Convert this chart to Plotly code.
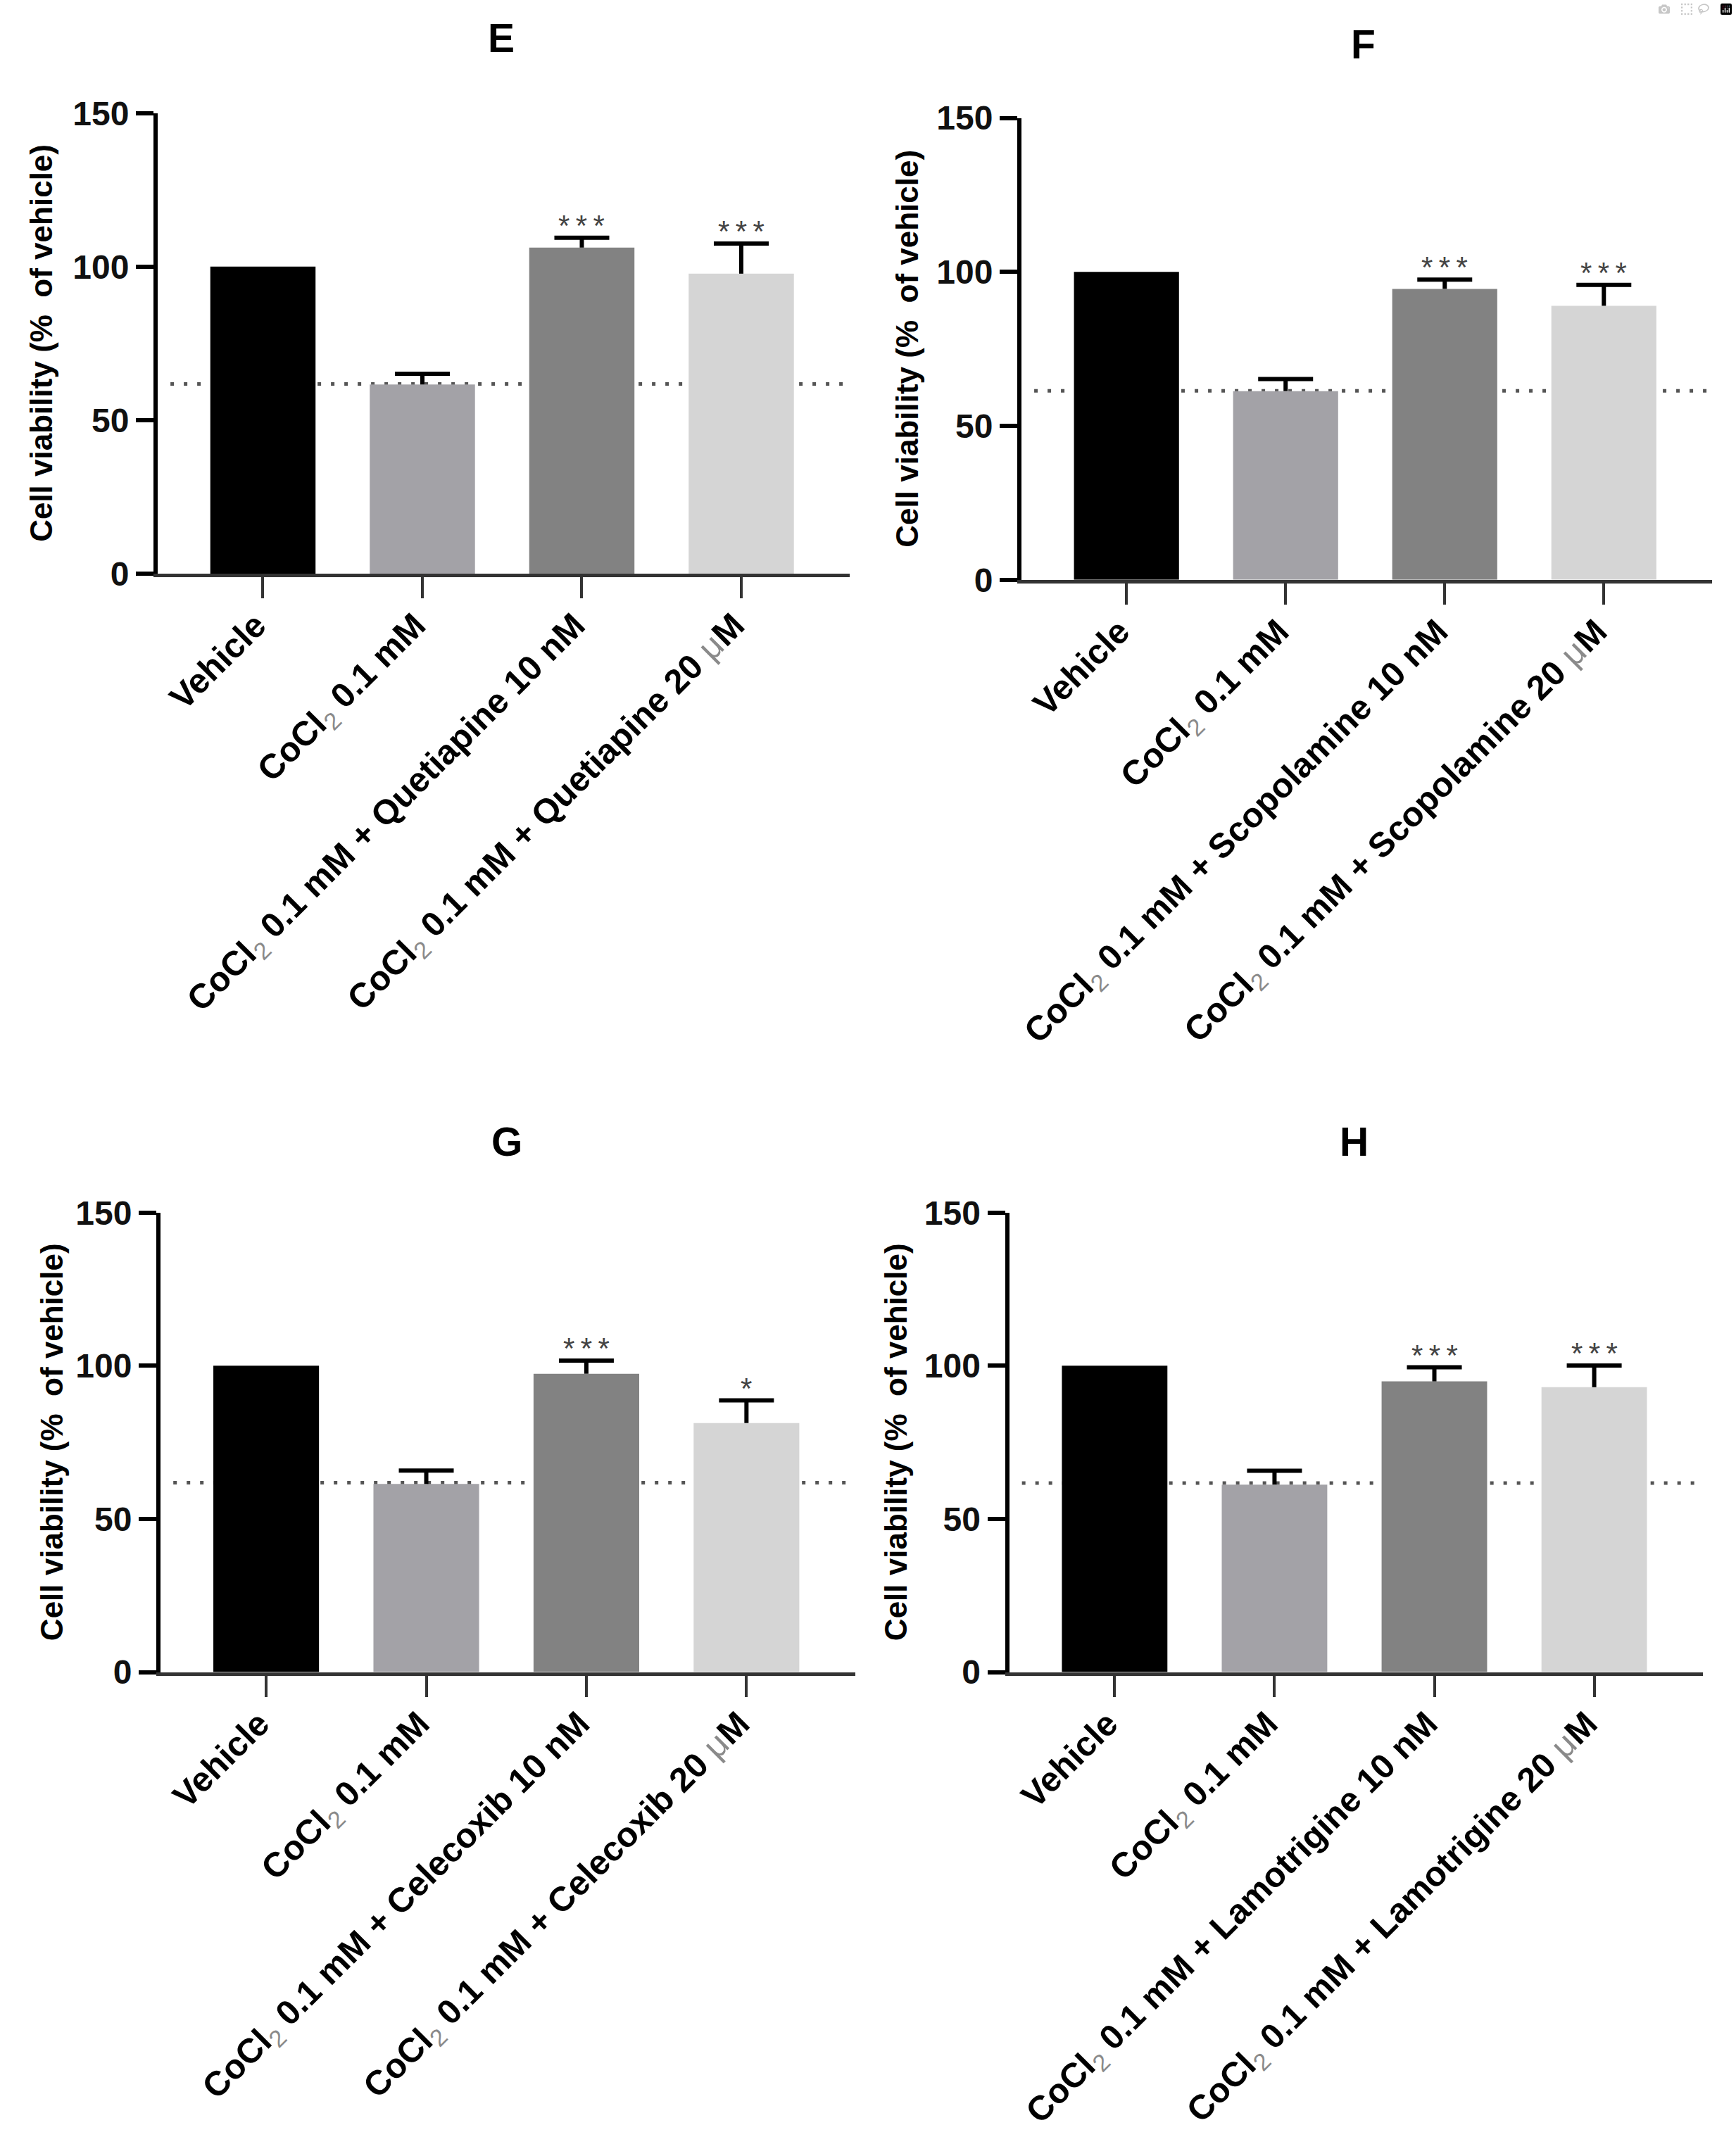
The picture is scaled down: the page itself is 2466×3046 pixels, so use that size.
import plotly.graph_objects as go

# ---------------- data ----------------
panel_letters = ["E", "F", "G", "H"]
drug_names = ["Quetiapine", "Scopolamine", "Celecoxib", "Lamotrigine"]

viability_E = [100.0, 61.6, 106.2, 97.7]
error_E = [0.0, 3.5, 3.2, 9.8]
stars_E = ["", "", "***", "***"]

viability_F = [100.0, 61.3, 94.5, 89.0]
error_F = [0.0, 3.9, 3.0, 6.8]
stars_F = ["", "", "***", "***"]

viability_G = [100.0, 61.4, 97.4, 81.3]
error_G = [0.0, 4.4, 4.3, 7.4]
stars_G = ["", "", "***", "*"]

viability_H = [100.0, 61.2, 94.9, 93.0]
error_H = [0.0, 4.5, 4.6, 7.1]
stars_H = ["", "", "***", "***"]

reference_line = [61.8, 61.4, 61.8, 61.7]   # CoCl2 level (dotted line)

y_ticks = [0, 50, 100, 150]
y_title = "Cell viability (%  of vehicle)"

values = [viability_E, viability_F, viability_G, viability_H]
errors = [error_E, error_F, error_G, error_H]
stars = [stars_E, stars_F, stars_G, stars_H]

# ---------------- style ----------------
bar_colors = ["#000000", "#a3a2a7", "#828282", "#d5d5d5"]
FONT = "Liberation Sans, Arial, Helvetica, sans-serif"
SUB2 = '<sub><span style="color:#8a8a8a;font-weight:normal">2</span></sub>'
MU = '<span style="color:#8a8a8a;font-weight:normal">\u03bc</span>'

W, H = 2466, 3046
# panel geometry in pixels: (x_left, x_right, y_top(150), y_bottom(0))
geom = [
    (224, 1207, 160.7, 815.0),
    (1451, 2432, 167.6, 823.8),
    (228, 1215, 1722.8, 2375.5),
    (1433.5, 2419, 1722.8, 2375.5),
]
title_pos = [(711.6, 54.5), (1936, 63), (719.5, 1621.7), (1923.4, 1621.7)]
ytitle_x = [59, 1289, 73, 1272]

x_range = [-0.66, 3.68]

fig = go.Figure()
annotations = []
shapes = []

for p in range(4):
    ax = "" if p == 0 else str(p + 1)
    xa, ya = "x" + ax, "y" + ax
    drug = drug_names[p]
    labels = [
        "Vehicle",
        f"CoCl{SUB2} 0.1 mM",
        f"CoCl{SUB2} 0.1 mM + {drug} 10 nM",
        f"CoCl{SUB2} 0.1 mM + {drug} 20 {MU}M",
    ]
    xs = list(range(len(labels)))
    v = values[p]
    e = errors[p]

    fig.add_trace(go.Bar(
        x=xs, y=v, width=0.66, marker=dict(color=bar_colors, line=dict(width=0)),
        xaxis=xa, yaxis=ya, showlegend=False, hoverinfo="skip"))

    # error bar stems (upward only)
    fig.add_trace(go.Scatter(
        x=xs, y=v, mode="markers", marker=dict(size=1, opacity=0),
        error_y=dict(type="data", symmetric=False, array=e, arrayminus=[0] * len(e),
                     width=0, thickness=6, color="#000000"),
        xaxis=xa, yaxis=ya, showlegend=False, hoverinfo="skip"))
    # error bar caps
    tops = [vi + ei if ei > 0 else None for vi, ei in zip(v, e)]
    fig.add_trace(go.Scatter(
        x=xs, y=tops, mode="markers", marker=dict(size=1, opacity=0),
        error_y=dict(type="data", symmetric=True, array=[0] * len(e),
                     width=39, thickness=6, color="#000000"),
        xaxis=xa, yaxis=ya, showlegend=False, hoverinfo="skip"))

    # dotted reference line
    shapes.append(dict(type="line", xref=xa, yref=ya, x0=-0.58, x1=3.66,
                       y0=reference_line[p], y1=reference_line[p], layer="below",
                       line=dict(color="#555555", width=5, dash="5px,14px")))

    # significance stars
    for i, s in enumerate(stars[p]):
        if s:
            annotations.append(dict(
                xref=xa, yref=ya, x=xs[i], y=v[i] + e[i], text="\u2009".join(s),
                showarrow=False, yanchor="bottom", yshift=-8,
                font=dict(family=FONT, size=42, color="#444444")))

    xl, xr, yt, yb = geom[p]
    dom_x = [xl / W, xr / W]
    dom_y = [1 - yb / H, 1 - yt / H]

    fig.layout[("xaxis" + ax)] = dict(
        domain=dom_x, range=x_range, anchor=ya, automargin=False,
        tickmode="array", tickvals=xs, ticktext=labels, tickangle=-45,
        ticks="outside", ticklen=30, tickwidth=4, tickcolor="#333333",
        ticklabelshift=-10, ticklabelstandoff=-10,
        showline=True, linewidth=5, linecolor="#333333",
        showgrid=False, zeroline=False, fixedrange=True,
        tickfont=dict(family=FONT, size=49, color="#000000", weight="bold"))
    fig.layout[("yaxis" + ax)] = dict(
        domain=dom_y, range=[0, 150], anchor=xa, automargin=False,
        tickmode="array", tickvals=y_ticks,
        ticks="outside", ticklen=25, tickwidth=6, tickcolor="#000000",
        showline=True, linewidth=6, linecolor="#000000",
        showgrid=False, zeroline=False, fixedrange=True,
        tickfont=dict(family=FONT, size=48, color="#111111", weight="bold"))

    tx, ty = title_pos[p]
    annotations.append(dict(xref="paper", yref="paper", x=tx / W, y=1 - ty / H,
                            text=f"<b>{panel_letters[p]}</b>", showarrow=False,
                            xanchor="center", yanchor="middle",
                            font=dict(family=FONT, size=57, color="#000000")))
    annotations.append(dict(xref="paper", yref="paper", x=ytitle_x[p] / W,
                            y=1 - (yt + yb) / 2 / H, text=f"<b>{y_title}</b>",
                            textangle=-90, showarrow=False,
                            xanchor="center", yanchor="middle",
                            font=dict(family=FONT, size=44, color="#000000")))

fig.update_layout(
    template="none",
    width=W, height=H, margin=dict(l=0, r=0, t=0, b=0, autoexpand=False),
    paper_bgcolor="white", plot_bgcolor="white",
    annotations=annotations, shapes=shapes, bargap=0.34,
    font=dict(family=FONT),
)

fig.write_html("out.html", post_script="document.body.style.margin='0px';")
